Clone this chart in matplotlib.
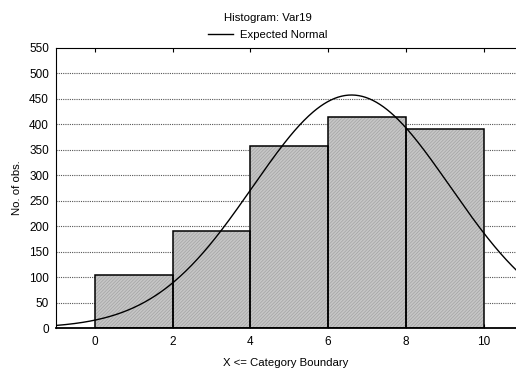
import numpy as np
import matplotlib
matplotlib.use("Agg")
import matplotlib.pyplot as plt
from matplotlib.lines import Line2D

# histogram of Var19 with a fitted normal curve
bin_edges = [0, 2, 4, 6, 8, 10]
counts = [105, 190, 357, 415, 390]
fit_mean = 6.6
fit_sd = 2.54
y_ticks = list(range(0, 551, 50))
x_ticks = [0, 2, 4, 6, 8, 10]

plt.rcParams['font.family'] = ['Liberation Sans', 'DejaVu Sans']
plt.rcParams['hatch.linewidth'] = 0.5
plt.rcParams['hatch.color'] = '#a4a4a4'

fig = plt.figure(figsize=(5.16, 3.72), dpi=100)
ax = fig.add_axes([0.1085, 0.118, 0.8915, 0.753])

lefts = bin_edges[:-1]
widths = np.diff(bin_edges)

# hatched fill, then black outline on top
ax.bar(lefts, counts, width=widths, align='edge', facecolor='#c6c6c6',
       edgecolor='#a4a4a4', linewidth=0, hatch='//////////', zorder=2)
ax.bar(lefts, counts, width=widths, align='edge', fill=False,
       edgecolor='black', linewidth=1.1, zorder=3)

# expected normal frequency = N * bin width * pdf
n_total = sum(counts)
xs = np.linspace(-1, 11, 400)
pdf = np.exp(-(xs - fit_mean) ** 2 / (2 * fit_sd ** 2)) / (fit_sd * np.sqrt(2 * np.pi))
ax.plot(xs, n_total * widths[0] * pdf, color='black', linewidth=1.0, zorder=4)

ax.set_xlim(-1, 10.83)
ax.set_ylim(0, 550)
ax.set_xticks(x_ticks)
ax.set_yticks(y_ticks)
ax.tick_params(axis='both', labelsize=8.5, length=3, direction='in', width=0.8)
ax.tick_params(axis='x', top=True, pad=6)
ax.tick_params(axis='y', length=0, pad=5)

for y in y_ticks[1:-1]:
    ax.axhline(y, color='#555555', linewidth=0.8, linestyle=(0, (1, 1)), zorder=1)

ax.spines['right'].set_visible(False)
for s in ['left', 'top', 'bottom']:
    ax.spines[s].set_linewidth(0.8)
ax.spines['bottom'].set_linewidth(1.3)

ax.set_xlabel('X <= Category Boundary', fontsize=8.2, labelpad=7)
ax.set_ylabel('No. of obs.', fontsize=8.2, labelpad=5)

fig.text(0.519, 0.952, 'Histogram: Var19', ha='center', va='center', fontsize=8.2)
handle = Line2D([], [], color='black', linewidth=1.0)
fig.legend([handle], ['Expected Normal'], loc='center', bbox_to_anchor=(0.519, 0.905),
           frameon=False, fontsize=8.2, handlelength=2.2, handletextpad=0.6)

fig.savefig('out.png', dpi=100)
